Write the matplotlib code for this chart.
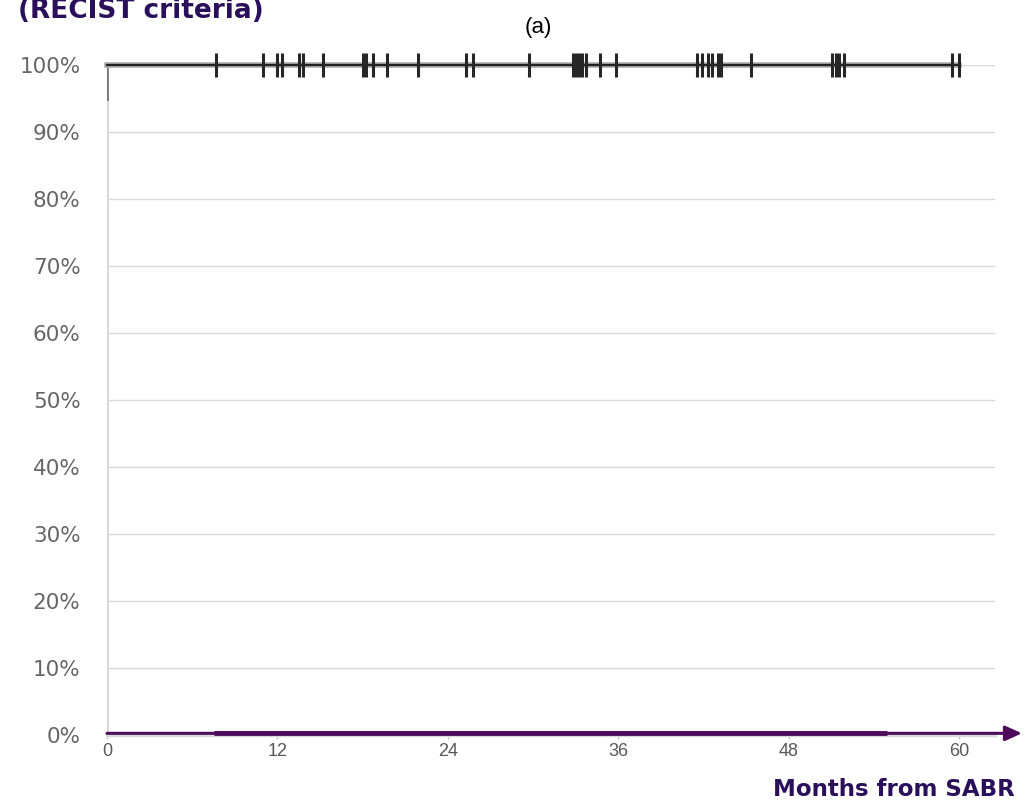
import matplotlib.pyplot as plt
import numpy as np

# Kaplan-Meier: local control (RECIST criteria), no events
km_months = [0, 60]
km_surv = [100, 100]
censor_months = [7.7, 11.0, 12.0, 12.3, 13.5, 13.8, 15.2, 18.0, 18.2, 18.7, 19.7,
                 21.9, 25.3, 25.75, 29.7, 32.8, 33.0, 33.2, 33.4, 33.7, 34.7, 35.85,
                 41.5, 41.9, 42.3, 42.6, 43.0, 43.2, 45.3, 51.0, 51.3, 51.5, 51.9,
                 59.5, 59.95]
y_ticks = [0, 10, 20, 30, 40, 50, 60, 70, 80, 90, 100]
x_ticks = [0, 12, 24, 36, 48, 60]
highlight = [7.5, 54.9]  # thick purple stretch on the time axis

purple = '#4e0b5c'
dark_purple = '#2a0f5a'
grid_c = '#d9d9d9'

fig = plt.figure(figsize=(10.29, 8.02), dpi=100)
ax = fig.add_axes([107/1029, 1-735/802, (995-107)/1029, 670/802])
ax.set_xlim(0, 62.5)
ax.set_ylim(0, 100)

for s in ['top', 'right']:
    ax.spines[s].set_visible(False)
ax.spines['left'].set_visible(False)
ax.spines['bottom'].set_color(grid_c)
ax.spines['bottom'].set_linewidth(2.5)

# grid
for v in y_ticks[1:]:
    ax.axhline(v, color=grid_c, lw=1, zorder=1)
ax.plot([0, 0], [0, 95], color=grid_c, lw=3, zorder=2, solid_capstyle='butt')
ax.plot([0, 0], [95, 100], color='#777777', lw=2, zorder=3)

# KM curve with halo
ax.step(km_months, km_surv, where='post', color='#aaaaaa', lw=4, zorder=3, clip_on=False)
ax.step(km_months, km_surv, where='post', color='#222222', lw=1.6, zorder=4, clip_on=False)
ax.plot(censor_months, [100]*len(censor_months), linestyle='none', marker='|',
        markersize=17, mew=2.2, color='#262626', zorder=5, clip_on=False)

# purple time arrow
ax.annotate('', xy=(64.4, 0.25), xytext=(0, 0.25), xycoords='data',
            arrowprops=dict(arrowstyle='-|>,head_length=1.0,head_width=0.45',
                            color=purple, lw=2.2, shrinkA=0, shrinkB=0),
            annotation_clip=False, zorder=6)
ax.plot(highlight, [0.3, 0.3], color=purple, lw=3.5, solid_capstyle='butt',
        zorder=6, clip_on=False)

ax.set_yticks(y_ticks)
ax.set_yticklabels([f'{v}%' for v in y_ticks], fontsize=15.5, color='#666666',
                   family='DejaVu Sans')
ax.tick_params(axis='y', length=0, pad=19)
ax.set_xticks(x_ticks)
ax.set_xticklabels([str(v) for v in x_ticks], fontsize=13, color='#595959',
                   family='Liberation Sans')
ax.tick_params(axis='x', length=3, color='#bbbbbb', pad=3)

fig.text(538/1029, 1-28/802, '(a)', fontsize=16, family='Liberation Sans',
         ha='center', va='center', color='black')
fig.text(18/1029, 1-11/802, '(RECIST criteria)', fontsize=19, fontweight='bold',
         family='DejaVu Sans', color=dark_purple, ha='left', va='center')
fig.text(1015/1029, 1-790/802, 'Months from SABR', fontsize=16.5, fontweight='bold',
         family='DejaVu Sans', color=dark_purple, ha='right', va='center')

fig.savefig('out.png', dpi=100)
